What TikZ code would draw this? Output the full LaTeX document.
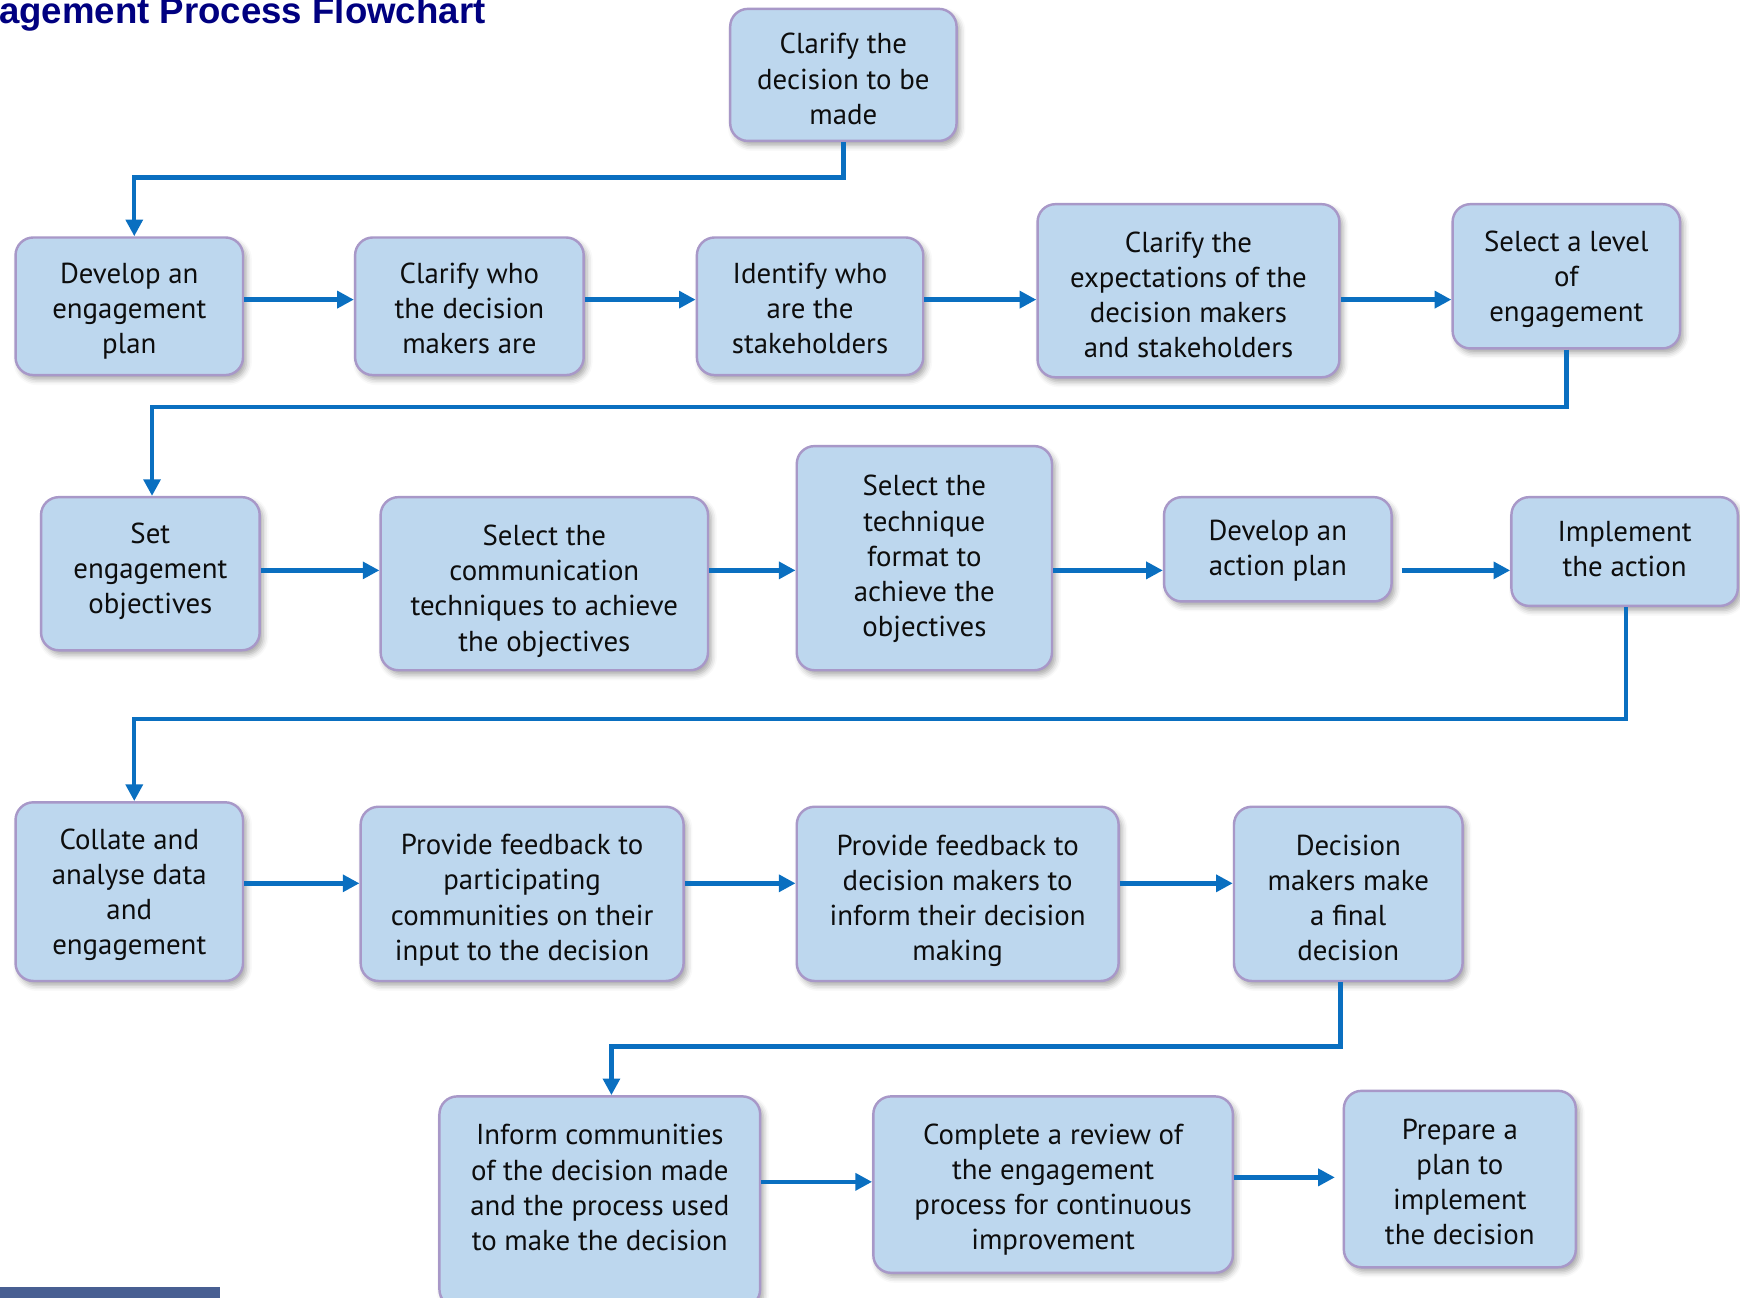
\documentclass[tikz,border=0pt]{standalone}
\usepackage{fontspec}
\setmainfont{PT Sans}
\newfontfamily\titlefont{Liberation Sans}
\usetikzlibrary{arrows.meta,shadows.blur,calc}
\definecolor{boxfill}{HTML}{BDD7EE}
\definecolor{boxline}{HTML}{A898C8}
\definecolor{flowblue}{HTML}{0A6FC0}
\definecolor{titlenavy}{HTML}{000080}
\definecolor{barblue}{HTML}{485F92}
% a taller first line pushes the text block of a step down
\newcommand\firstline[1]{\rule{0pt}{#1}}
\begin{document}
\begin{tikzpicture}[x=1pt,y=-1pt,
  box/.style={draw=boxline, line width=2.2pt, fill=boxfill, rounded corners=16pt,
    align=center, inner sep=0pt, text=black!95, text depth=0pt,
    font=\fontsize{26}{31.7}\selectfont,
    blur shadow={shadow xshift=3pt, shadow yshift=-4pt, shadow blur radius=5pt, shadow opacity=35}},
  flow/.style={draw=flowblue, line width=4pt, -{Triangle[length=15pt,width=15pt]}},
  bw/.style={minimum width=#1},
  bh/.style={minimum height=#1},
]
\useasboundingbox (0,0) rectangle (1568,1169);

% heading
\node[anchor=base west, inner sep=0pt, text=titlenavy,
      font=\titlefont\bfseries\fontsize{33}{36}\selectfont] (title) at (-1,21)
  {agement Process Flowchart};

% footer bar
\fill[barblue] (0,1160) rectangle (198,1172);

% process steps
\node[box, bw=204pt, bh=119pt] (n1) at (760,67.5) {\firstline{25.5pt}Clarify the\\decision to be\\made};

\node[box, bw=205pt, bh=124pt] (n2) at (116.5,276) {\firstline{21.5pt}Develop an\\engagement\\plan};
\node[box, bw=206pt, bh=124pt] (n3) at (423,276) {\firstline{21.5pt}Clarify who\\the decision\\makers are};
\node[box, bw=204pt, bh=124pt] (n4) at (730,276) {\firstline{22.5pt}Identify who\\are the\\stakeholders};
\node[box, bw=272pt, bh=156pt] (n5) at (1071,262) {\firstline{25.5pt}Clarify the\\expectations of the\\decision makers\\and stakeholders};
\node[box, bw=205pt, bh=130pt] (n6) at (1411.5,249) {Select a level\\of\\engagement};

\node[box, bw=197pt, bh=138pt, text depth=10pt] (n7) at (135.5,517) {Set\\engagement\\objectives};
\node[box, bw=295pt, bh=156pt] (n8) at (490.5,526) {\firstline{26.5pt}Select the\\communication\\techniques to achieve\\the objectives};
\node[box, bw=230pt, bh=202pt, text depth=4pt] (n9) at (833,503) {Select the\\technique\\format to\\achieve the\\objectives};
\node[box, bw=205pt, bh=94pt, text depth=2pt] (n10) at (1151.5,495) {Develop an\\action plan};
\node[box, bw=204pt, bh=98pt, text depth=4pt] (n11) at (1464,497) {Implement\\the action};

\node[box, bw=205pt, bh=161pt] (n12) at (116.5,803.5) {Collate and\\analyse data\\and\\engagement};
\node[box, bw=291pt, bh=157pt] (n13) at (470.5,805.5) {\firstline{24.5pt}Provide feedback to\\participating\\communities on their\\input to the decision};
\node[box, bw=290pt, bh=157pt] (n14) at (863,805.5) {\firstline{25.5pt}Provide feedback to\\decision makers to\\inform their decision\\making};
\node[box, bw=206pt, bh=157pt] (n15) at (1215,805.5) {\firstline{25.5pt}Decision\\makers make\\a final\\decision};

\node[box, bw=289pt, bh=190pt, text depth=26pt] (n16) at (540.5,1083) {Inform communities\\of the decision made\\and the process used\\to make the decision};
\node[box, bw=324pt, bh=159pt] (n17) at (949,1067.5) {\firstline{22.5pt}Complete a review of\\the engagement\\process for continuous\\improvement};
\node[box, bw=209pt, bh=159pt] (n18) at (1315.5,1062.5) {\firstline{23.5pt}Prepare a\\plan to\\implement\\the decision};

% connectors
\draw[flow] (n1.south) -- (n1.south |- 0,160) -| ([xshift=4.5pt]n2.north);
\draw[flow] (n2.east |- 0,270) -- (n3.west |- 0,270);
\draw[flow] (n3.east |- 0,270) -- (n4.west |- 0,270);
\draw[flow] (n4.east |- 0,270) -- (n5.west |- 0,270);
\draw[flow] (n5.east |- 0,270) -- (n6.west |- 0,270);

\draw[flow] (n6.south) -- (n6.south |- 0,367) -| ([xshift=1.5pt]n7.north);
\draw[flow] (n7.east |- 0,514) -- (n8.west |- 0,514);
\draw[flow] (n8.east |- 0,514) -- (n9.west |- 0,514);
\draw[flow] (n9.east |- 0,514) -- (n10.west |- 0,514);
\draw[flow] ([xshift=8pt]n10.east |- 0,514) -- (n11.west |- 0,514);

\draw[flow] ([xshift=1pt]n11.south) -- ([xshift=1pt]n11.south |- 0,648) -| ([xshift=4.5pt]n12.north);
\draw[flow] (n12.east |- 0,796) -- (n13.west |- 0,796);
\draw[flow] (n13.east |- 0,796) -- (n14.west |- 0,796);
\draw[flow] (n14.east |- 0,796) -- (n15.west |- 0,796);

\draw[flow] ([xshift=-7pt]n15.south) -- ([xshift=-7pt]n15.south |- 0,943) -| ([xshift=10.5pt]n16.north);
\draw[flow] (n16.east |- 0,1065) -- (n17.west |- 0,1065);
\draw[flow] (n17.east |- 0,1061) -- ([xshift=-7pt]n18.west |- 0,1061);
\end{tikzpicture}
\end{document}
